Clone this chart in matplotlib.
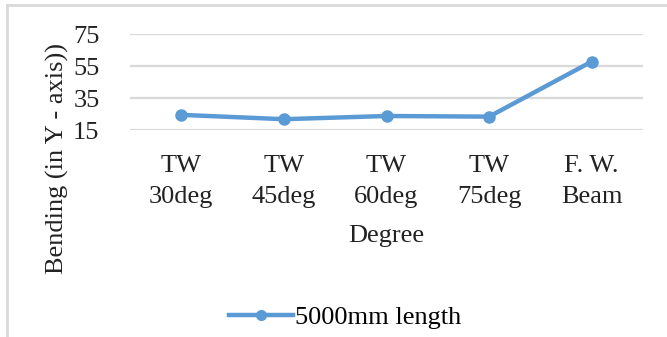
import matplotlib
matplotlib.use('Agg')
import matplotlib.pyplot as plt
from matplotlib.lines import Line2D

categories = ["TW\n30deg", "TW\n45deg", "TW\n60deg", "TW\n75deg", "F. W.\nBeam"]
bending = [24.5, 21.8, 23.8, 23.4, 57.8]
y_ticks = [15, 35, 55, 75]

plt.rcParams['font.family'] = ['Liberation Serif', 'DejaVu Serif']

blue = '#5B9BD5'
grid_grey = '#D9D9D9'
fs = 19

fig = plt.figure(figsize=(6.67, 3.37), dpi=100)
ax = fig.add_axes([0.195, 0.614, 0.769, 0.285])

x = range(len(categories))
ax.plot(x, bending, color=blue, linewidth=3.2, marker='o', markersize=8,
        solid_capstyle='round', zorder=3)

ax.set_xlim(-0.5, len(categories) - 0.5)
ax.set_ylim(15, 75)
ax.set_yticks(y_ticks)
ax.set_xticks(list(x))
ax.set_xticklabels(categories, linespacing=1.55)
ax.tick_params(axis='both', length=0, labelsize=fs, colors='#222222')
ax.tick_params(axis='x', pad=18)
ax.tick_params(axis='y', pad=22)
ax.yaxis.grid(True, color=grid_grey, linewidth=1.6)
ax.set_axisbelow(True)
for s in ax.spines.values():
    s.set_visible(False)

ax.set_xlabel("Degree", fontsize=fs, color='#222222', labelpad=12)
fig.text(0.086, 0.53, "Bending (in Y - axis))", rotation=90, fontsize=fs,
         color='#222222', ha='center', va='center')

handle = Line2D([], [], color=blue, linewidth=3.2, marker='o', markersize=7)
fig.legend([handle], ["5000mm length"], loc='center', bbox_to_anchor=(0.518, 0.058),
           frameon=False, fontsize=fs, handlelength=2.4, handletextpad=0.1)

# thin frame along the top and left edges
fig.add_artist(Line2D([0.0105, 1.0], [0.985, 0.985], color=grid_grey, linewidth=2,
                      transform=fig.transFigure))
fig.add_artist(Line2D([0.0105, 0.0105], [0.0, 0.985], color=grid_grey, linewidth=2,
                      transform=fig.transFigure))

fig.savefig('out.png', dpi=100, facecolor='white')
